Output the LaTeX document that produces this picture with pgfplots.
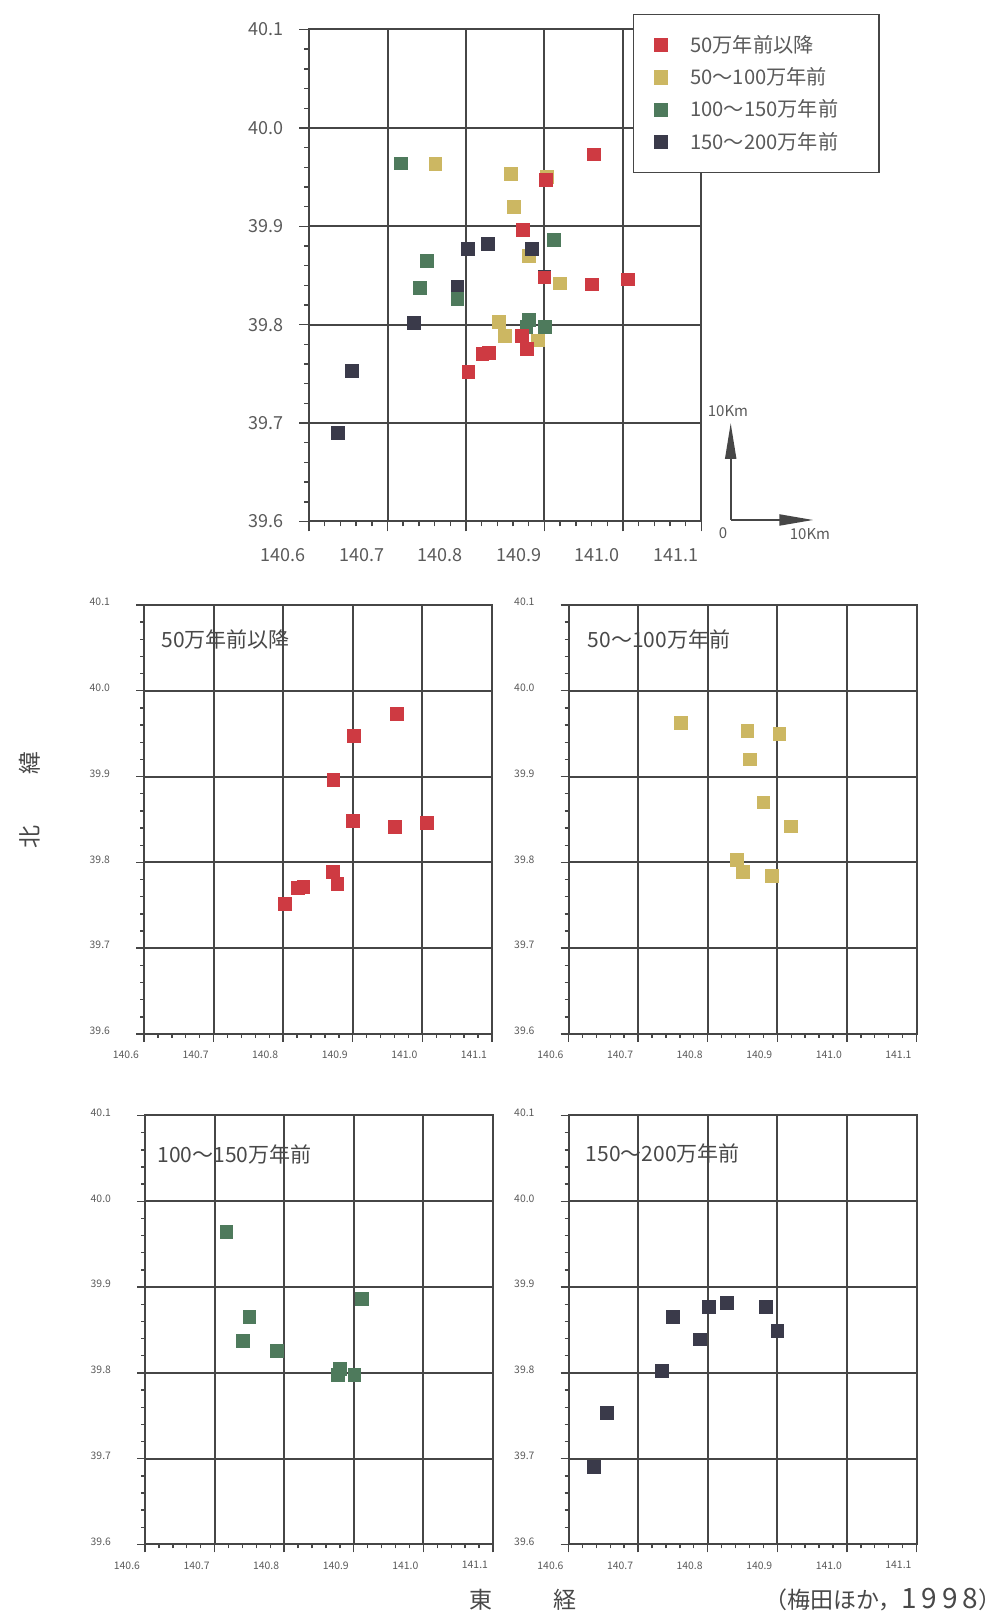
\documentclass[border=0pt]{standalone}
\usepackage{fontspec}
\setmainfont{Noto Sans CJK JP}
\usepackage{pgfplots}
\usepackage{pgfplotstable}
\pgfplotsset{compat=1.18}
\usetikzlibrary{arrows.meta}

\definecolor{cred}{RGB}{206,58,66}
\definecolor{cyel}{RGB}{204,183,98}
\definecolor{cgrn}{RGB}{78,122,92}
\definecolor{cdrk}{RGB}{58,58,74}
\definecolor{txt}{RGB}{90,90,90}
\definecolor{gridc}{RGB}{70,70,70}

\pgfplotstableread{
x y
140.963 39.973
140.902 39.947
140.872 39.896
140.900 39.848
140.960 39.841
141.006 39.846
140.871 39.789
140.878 39.775
140.821 39.770
140.829 39.771
140.803 39.752
}\tred
\pgfplotstableread{
x y
140.761 39.963
140.857 39.953
140.903 39.950
140.861 39.920
140.880 39.870
140.920 39.842
140.842 39.803
140.850 39.789
140.892 39.784
}\tyel
\pgfplotstableread{
x y
140.717 39.964
140.750 39.865
140.741 39.837
140.789 39.826
140.912 39.886
140.880 39.805
140.877 39.798
140.901 39.798
}\tgrn
\pgfplotstableread{
x y
140.637 39.690
140.655 39.753
140.734 39.802
140.750 39.865
140.789 39.839
140.802 39.877
140.828 39.882
140.884 39.877
140.900 39.849
}\tdrk

\pgfplotsset{
  base/.style={
    scale only axis,
    xmin=140.6, xmax=141.1, ymin=39.6, ymax=40.1,
    xtick={140.6,140.7,140.8,140.9,141.0,141.1},
    ytick={39.6,39.7,39.8,39.9,40.0,40.1},
    minor tick num=4,
    grid=major,
    major grid style={gridc, line width=1pt},
    axis line style={gridc, line width=1pt},
    tick pos=left, tick align=outside,
    every tick/.style={gridc, line width=0.7pt},
    /pgf/number format/fixed,
    /pgf/number format/fixed zerofill,
    /pgf/number format/precision=1,
    /pgf/number format/assume math mode=true,
    /pgf/number format/1000 sep={},
    tick label style={text=txt},
  },
  mainax/.style={base,
    width=196.25pt, height=246pt,
    major tick length=5pt, minor tick length=2.5pt,
    tick label style={font=\fontsize{9}{10}\selectfont},
    xticklabel style={anchor=north east, xshift=2pt, yshift=-5pt},
    yticklabel style={anchor=east, xshift=-4pt},
  },
  smallax/.style={base,
    width=174pt, height=214.5pt,
    major tick length=4pt, minor tick length=2pt,
    tick label style={font=\fontsize{5.2}{6}\selectfont},
    xticklabel style={anchor=north east, xshift=1pt, yshift=-1pt},
    yticklabel style={anchor=east, xshift=-9.5pt, yshift=1.5pt},
  },
  pr/.style={only marks, mark=square*, mark size=3.2pt, color=cred, mark options={draw=cred, fill=cred}},
  py/.style={only marks, mark=square*, mark size=3.2pt, color=cyel, mark options={draw=cyel, fill=cyel}},
  pg/.style={only marks, mark=square*, mark size=3.2pt, color=cgrn, mark options={draw=cgrn, fill=cgrn}},
  pd/.style={only marks, mark=square*, mark size=3.2pt, color=cdrk, mark options={draw=cdrk, fill=cdrk}},
}

\newcommand\ttl[1]{\fontsize{10.5}{12}\selectfont\color{txt!80!black}#1}

\begin{document}
\begin{tikzpicture}
\path[use as bounding box] (0,0) rectangle (502.5pt,809pt);

% main chart
\begin{axis}[mainax, at={(154.5pt,794.25pt)}, anchor=north west,
  legend style={at={(0.8247,1.0315)}, anchor=north west,
    draw=gridc, line width=0.7pt, fill=white,
    font=\fontsize{10.1}{11.5}\selectfont, text=txt,
    inner xsep=10.5pt, inner ysep=8.3pt, row sep=2.1pt, column sep=9.5pt},
  legend cell align=left]
\addlegendimage{pr}\addlegendentry{\makebox[82pt][l]{50万年前以降}}
\addlegendimage{py}\addlegendentry{\makebox[82pt][l]{50〜100万年前}}
\addlegendimage{pg}\addlegendentry{\makebox[82pt][l]{100〜150万年前}}
\addlegendimage{pd}\addlegendentry{\makebox[82pt][l]{150〜200万年前}}
\addplot[py, forget plot] table {\tyel};
\addplot[pd, forget plot] table {\tdrk};
\addplot[pg, forget plot] table {\tgrn};
\addplot[pr, forget plot] table {\tred};
\end{axis}

% small charts
\begin{axis}[smallax, at={(72pt,506.5pt)}, anchor=north west]
\addplot[pr] table {\tred};
\node[anchor=west, inner sep=0pt] at ([xshift=8.5pt,yshift=-17.5pt]rel axis cs:0,1) {\ttl{50万年前以降}};
\end{axis}

\begin{axis}[smallax, at={(284.25pt,506.5pt)}, anchor=north west]
\addplot[py] table {\tyel};
\node[anchor=west, inner sep=0pt] at ([xshift=9.5pt,yshift=-17pt]rel axis cs:0,1) {\ttl{50〜100万年前}};
\end{axis}

\begin{axis}[smallax, at={(72.5pt,251.25pt)}, anchor=north west]
\addplot[pg] table {\tgrn};
\node[anchor=west, inner sep=0pt] at ([xshift=6pt,yshift=-19.5pt]rel axis cs:0,1) {\ttl{100〜150万年前}};
\end{axis}

\begin{axis}[smallax, at={(284.25pt,251.25pt)}, anchor=north west]
\addplot[pd] table {\tdrk};
\node[anchor=west, inner sep=0pt] at ([xshift=8.5pt,yshift=-19pt]rel axis cs:0,1) {\ttl{150〜200万年前}};
\end{axis}

% scale bar
\draw[gridc, line width=1pt, -{Triangle[length=18pt,width=5.5pt]}] (365.35pt,549pt) -- (365.35pt,597.5pt);
\draw[gridc, line width=1pt, -{Triangle[length=17pt,width=5.5pt]}] (365.35pt,549pt) -- (406.65pt,549pt);
\node[font=\fontsize{7.5}{9}\selectfont, text=txt] at (364pt,603.5pt) {10Km};
\node[font=\fontsize{7.5}{9}\selectfont, text=txt] at (361.5pt,542.5pt) {0};
\node[font=\fontsize{7.5}{9}\selectfont, text=txt] at (405pt,542pt) {10Km};

% axis titles
\node[rotate=90, font=\fontsize{11.5}{13}\selectfont, text=txt!80!black] at (15pt,409pt) {北\hspace{26pt}緯};
\node[font=\fontsize{11.5}{13}\selectfont, text=txt!80!black] at (261.5pt,9pt) {東\hspace{31pt}経};
\node[font=\fontsize{11.5}{13}\selectfont, text=txt!80!black] at (441.5pt,9pt) {（梅田ほか，{\fontsize{14}{14}\selectfont 1\hspace{2.5pt}9\hspace{2.5pt}9\hspace{2.5pt}8}）};
\end{tikzpicture}
\end{document}
